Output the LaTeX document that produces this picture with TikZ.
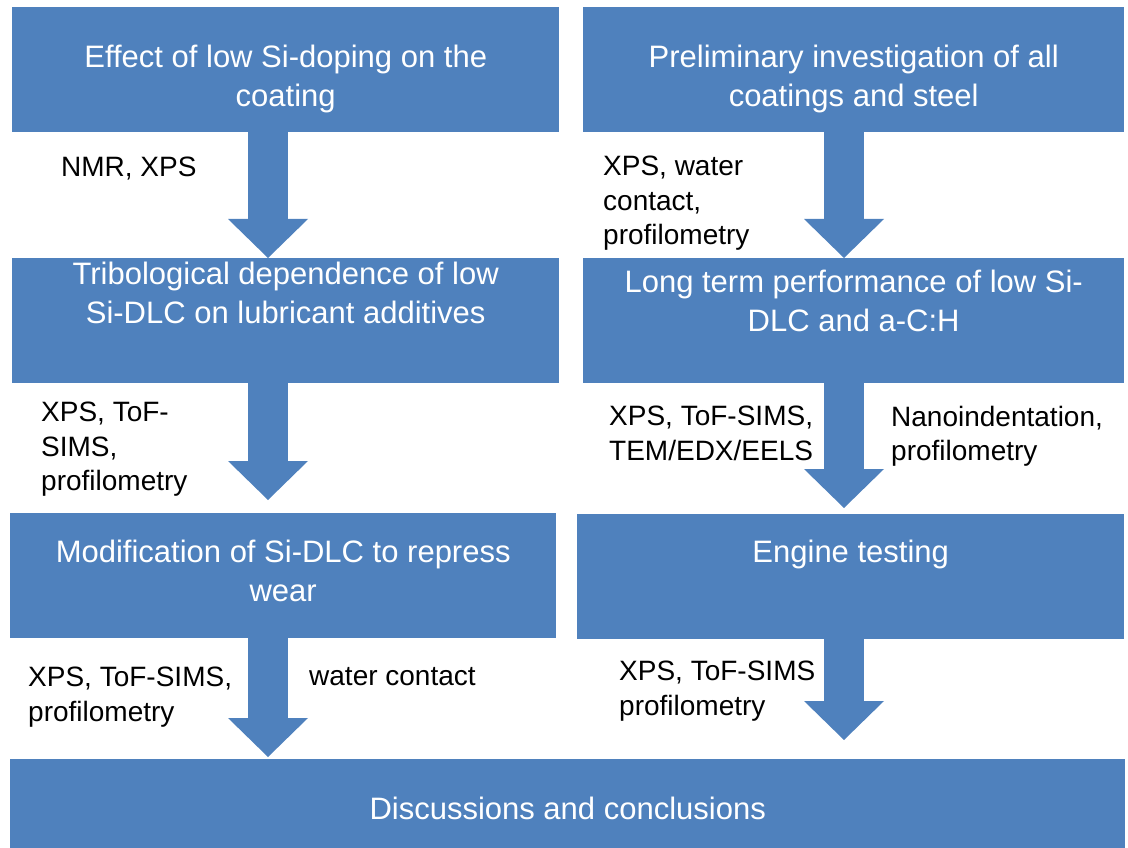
\documentclass[tikz,border=0pt]{standalone}
\usepackage{fontspec}
\setmainfont{Liberation Sans}
\usetikzlibrary{arrows.meta}
\definecolor{boxblue}{HTML}{4F81BD}
\begin{document}
\begin{tikzpicture}[x=1pt,y=-1pt,
        box/.style={fill=boxblue,anchor=north west,inner sep=0pt,minimum height=125pt},
        bt/.style={anchor=north,inner sep=0pt,align=center,text=white,font=\fontsize{31}{39}\selectfont},
        lc/.style={anchor=north west,inner sep=0pt,align=left,font=\fontsize{28}{34.5}\selectfont},
        fat/.style={draw=boxblue,line width=40pt,-{Triangle[width=80pt,length=39pt,line width=0pt]}}]
        \useasboundingbox (0,0) rectangle (1128,848);
        \node[box,minimum width=547pt] (L1) at (12,7) {};
        \node[box,minimum width=541pt] (R1) at (583,7) {};
        \node[box,minimum width=547pt] (L2) at (12,258) {};
        \node[box,minimum width=541pt] (R2) at (583,258) {};
        \node[box,minimum width=546pt] (L3) at (10,513) {};
        \node[box,minimum width=547pt] (R3) at (577,514) {};
        \node[box,minimum width=1115pt,minimum height=89pt] (D) at (10,759) {};
        \node[bt] (tL1) at ([yshift=-38pt]L1.north) {Effect of low Si-doping on the\\coating};
        \node[bt] (tR1) at ([yshift=-38pt]R1.north) {Preliminary investigation of all\\coatings and steel};
        \node[bt] (tL2) at ([yshift=-4pt]L2.north) {Tribological dependence of low\\Si-DLC on lubricant additives};
        \node[bt] (tR2) at ([yshift=-12pt]R2.north) {Long term performance of low Si-\\DLC and a-C:H};
        \node[bt] (tL3) at ([yshift=-27pt]L3.north) {Modification of Si-DLC to repress\\wear};
        \node[bt] (tR3) at ([yshift=-26pt]R3.north) {Engine testing};
        \node[bt] (tD) at ([yshift=-38pt]D.north) {Discussions and conclusions};
        \coordinate (colL) at (268,0);
        \coordinate (colR) at (844,0);
        \foreach \s/\t/\c/\g in {L1/L2/colL/0,L2/L3/colL/13,L3/D/colL/2,R1/R2/colR/0,R2/R3/colR/6,R3/D/colR/19} {
            \draw[fat,shorten >=\g pt] (\s.south -| \c) -- (\t.north -| \c);
        }
        \node[lc] (m1) at (61,157) {NMR, XPS};
        \node[lc] (m2) at (603,156) {XPS, water\\contact,\\profilometry};
        \node[lc] (m3) at (41,402) {XPS, ToF-\\SIMS,\\profilometry};
        \node[lc] (m4) at (609,406) {XPS, ToF-SIMS,\\TEM/EDX/EELS};
        \node[lc] (m5) at (891,406) {Nanoindentation,\\profilometry};
        \node[lc] (m6) at (28,667) {XPS, ToF-SIMS,\\profilometry};
        \node[lc] (m7) at (309,667) {water contact};
        \node[lc] (m8) at (619,661) {XPS, ToF-SIMS\\profilometry};
    \end{tikzpicture}
\end{document}
